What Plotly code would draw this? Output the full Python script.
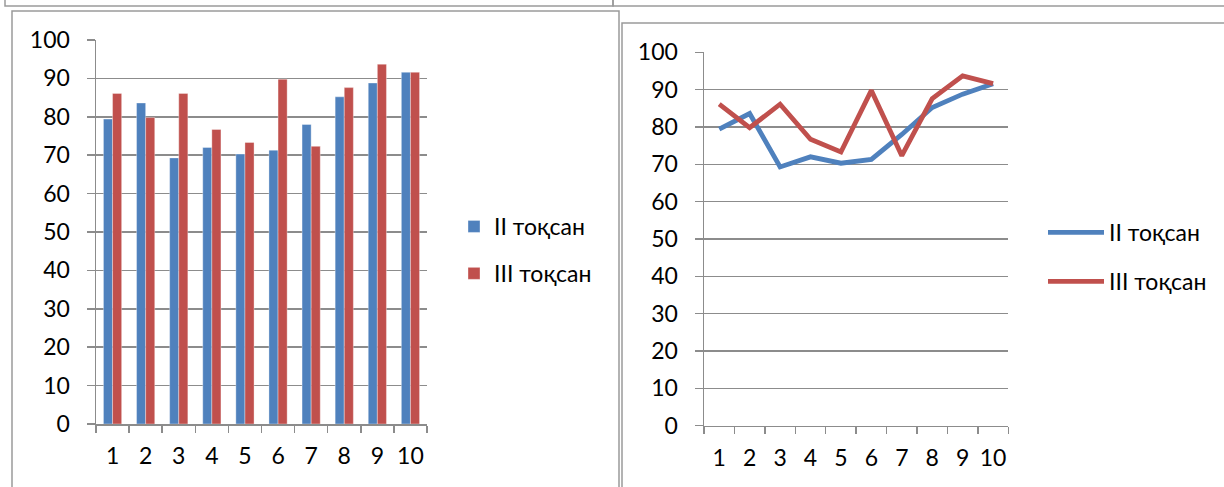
import plotly.graph_objects as go

categories = ["1", "2", "3", "4", "5", "6", "7", "8", "9", "10"]
q2_values = [79.4, 83.6, 69.3, 72.0, 70.3, 71.3, 78.0, 85.2, 88.8, 91.6]
q3_values = [86.1, 79.8, 86.1, 76.7, 73.3, 89.8, 72.3, 87.6, 93.7, 91.6]
series_names = ["II тоқсан", "III тоқсан"]
y_ticks = [0, 10, 20, 30, 40, 50, 60, 70, 80, 90, 100]

BLUE = "#4F81BD"
RED = "#C0504D"
GRID = "#8c8c8c"
FONT = "Lato, 'Noto Sans', sans-serif"
W, H = 1224, 487


def px(x):
    return x / W


def py(y):
    return 1 - y / H


fig = go.Figure()

fig.add_trace(go.Bar(x=categories, y=q2_values, name=series_names[0],
                     marker=dict(color=BLUE, line=dict(color="rgba(255,255,255,0.35)", width=1)),
                     xaxis="x", yaxis="y", legend="legend", legendgroup="a"))
fig.add_trace(go.Bar(x=categories, y=q3_values, name=series_names[1],
                     marker=dict(color=RED, line=dict(color="rgba(255,255,255,0.35)", width=1)),
                     xaxis="x", yaxis="y", legend="legend", legendgroup="b"))

fig.add_trace(go.Scatter(x=categories, y=q2_values, name=series_names[0], mode="lines",
                         line=dict(color=BLUE, width=4.8),
                         xaxis="x2", yaxis="y2", legend="legend2", legendgroup="c"))
fig.add_trace(go.Scatter(x=categories, y=q3_values, name=series_names[1], mode="lines",
                         line=dict(color=RED, width=4.8),
                         xaxis="x2", yaxis="y2", legend="legend2", legendgroup="d"))

xaxis_common = dict(type="category", range=[-0.5, 9.5], showgrid=False, zeroline=False,
                    showline=True, linecolor=GRID, linewidth=1.5,
                    ticks="outside", tickson="boundaries", ticklen=7, tickwidth=1.5,
                    tickcolor=GRID, tickfont=dict(family=FONT, size=23, color="#000"),
                    tickangle=0, ticklabelstandoff=11, automargin=False, fixedrange=True)
yaxis_common = dict(range=[0, 100], tickvals=y_ticks, showgrid=True, gridcolor=GRID,
                    gridwidth=1.5, zeroline=False, showline=True, linecolor=GRID,
                    linewidth=1.5, ticks="outside", ticklen=8, tickwidth=1.5,
                    tickcolor=GRID, tickfont=dict(family=FONT, size=23, color="#000"),
                    ticklabelstandoff=12, automargin=False, fixedrange=True)

fig.update_layout(
    width=W, height=H,
    margin=dict(l=0, r=0, t=0, b=0, autoexpand=False),
    paper_bgcolor="white", plot_bgcolor="white",
    barmode="group", bargap=0.45, bargroupgap=0,
    xaxis=dict(domain=[px(96), px(427)], anchor="y", **xaxis_common),
    yaxis=dict(domain=[py(424), py(40)], anchor="x", **yaxis_common),
    xaxis2=dict(domain=[px(704), px(1008.3)], anchor="y2", **xaxis_common),
    yaxis2=dict(domain=[py(425.7), py(52.3)], anchor="x2", **yaxis_common),
    legend=dict(x=px(454), y=py(250), xanchor="left", yanchor="middle",
                font=dict(family=FONT, size=23, color="#000"),
                traceorder="grouped", tracegroupgap=14, bgcolor="rgba(0,0,0,0)"),
    legend2=dict(x=px(1043), y=py(257), xanchor="left", yanchor="middle",
                 font=dict(family=FONT, size=23, color="#000"),
                 traceorder="grouped", tracegroupgap=16, itemwidth=56,
                 bgcolor="rgba(0,0,0,0)"),
    showlegend=True,
)

frame = dict(color="#9a9a9a", width=1.5)
shapes = [
    dict(type="rect", xref="paper", yref="paper", x0=px(5), x1=px(613), y0=py(6), y1=py(-20), line=frame),
    dict(type="rect", xref="paper", yref="paper", x0=px(613), x1=px(1240), y0=py(6), y1=py(-20), line=frame),
    dict(type="rect", xref="paper", yref="paper", x0=px(12), x1=px(619), y0=py(520), y1=py(11), line=frame),
    dict(type="rect", xref="paper", yref="paper", x0=px(622), x1=px(1240), y0=py(520), y1=py(23), line=frame),
]
fig.update_layout(shapes=shapes)

fig.write_html("out.html", config={"displayModeBar": False, "staticPlot": True},
               post_script="document.body.style.margin='0';document.body.style.overflow='hidden';")
